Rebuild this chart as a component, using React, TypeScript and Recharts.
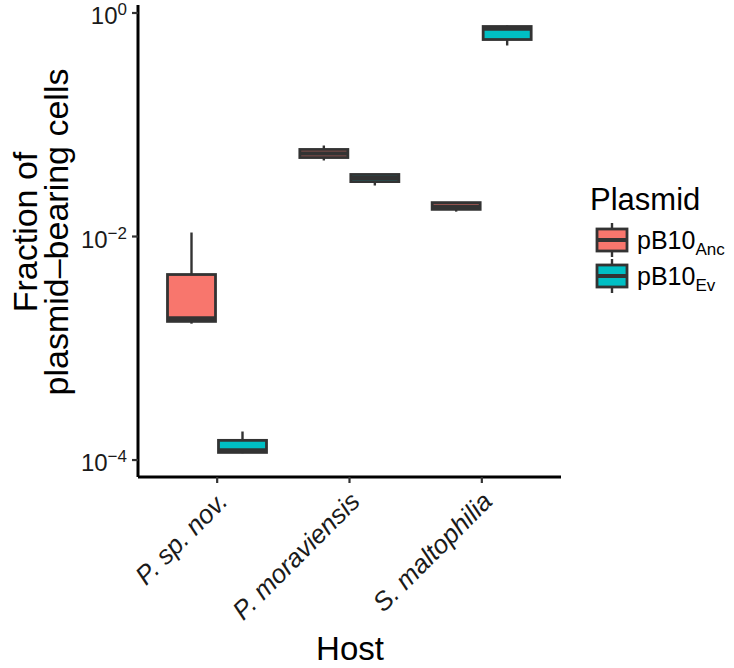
import React from "react";
import { ComposedChart, Bar, XAxis, YAxis, Legend } from "recharts";

const hosts = ["P. sp. nov.", "P. moraviensis", "S. maltophilia"];

// five-number summaries
const ancMin = [0.00166, 0.0479, 0.0167];
const ancQ1 = [0.00174, 0.0509, 0.0175];
const ancMed = [0.00185, 0.0553, 0.0185];
const ancQ3 = [0.00457, 0.0601, 0.0201];
const ancMax = [0.01086, 0.0652, 0.0202];

const evMin = [0.000115, 0.0286, 0.512];
const evQ1 = [0.000117, 0.031, 0.579];
const evMed = [0.000122, 0.0333, 0.726];
const evQ3 = [0.00015, 0.0359, 0.757];
const evMax = [0.00018, 0.036, 0.773];

const yTicks = [1e-4, 1e-2, 1];

const colors = { Anc: "#F8766D", Ev: "#00BFC4" };
const FONT = "'Liberation Sans', Arial, Helvetica, sans-serif";

const data = hosts.map((host, i) => ({
    host,
    anc: [ancMin[i], ancMax[i]],
    ev: [evMin[i], evMax[i]],
    ancStats: { min: ancMin[i], q1: ancQ1[i], med: ancMed[i], q3: ancQ3[i], max: ancMax[i] },
    evStats: { min: evMin[i], q1: evQ1[i], med: evMed[i], q3: evQ3[i], max: evMax[i] },
}));

// the bar spans whisker min..max; the rest is placed on the same log scale
function BoxShape(props: any) {
    const { x, y, width, height, payload, statKey, fill } = props;
    const s = payload[statKey];
    const top = Math.min(y, y + height);
    const bottom = Math.max(y, y + height);
    const hi = Math.log10(s.max);
    const lo = Math.log10(s.min);
    const py = (v: number) => top + ((bottom - top) * (hi - Math.log10(v))) / (hi - lo);
    const cx = x + width / 2;
    return (
        <g>
            <line x1={cx} x2={cx} y1={py(s.max)} y2={py(s.q3)} stroke="#333333" strokeWidth={2.4} />
            <line x1={cx} x2={cx} y1={py(s.q1)} y2={py(s.min)} stroke="#333333" strokeWidth={2.4} />
            <rect
                x={x + 1.5}
                y={py(s.q3)}
                width={width - 3}
                height={Math.max(0.5, py(s.q1) - py(s.q3))}
                fill={fill}
                stroke="#333333"
                strokeWidth={2.8}
            />
            <line x1={x + 1.5} x2={x + width - 1.5} y1={py(s.med)} y2={py(s.med)} stroke="#333333" strokeWidth={4.5} />
        </g>
    );
}

function YTick(props: any) {
    const { x, y, payload } = props;
    const exp = Math.round(Math.log10(payload.value));
    const sup = exp < 0 ? `\u2212${-exp}` : `${exp}`;
    return (
        <text x={x - 3} y={y + 11} textAnchor="end" fill="#1a1a1a" fontFamily={FONT} fontSize={24}>
            <tspan>10</tspan>
            <tspan dy={-9} fontSize={17}>
                {sup}
            </tspan>
        </text>
    );
}

function XTick(props: any) {
    const { x, y, payload } = props;
    const ax = x + 12;
    const ay = y + 18;
    return (
        <text
            x={ax}
            y={ay}
            transform={`rotate(-45, ${ax}, ${ay})`}
            textAnchor="end"
            fill="#1a1a1a"
            fontFamily={FONT}
            fontStyle="italic"
            fontSize={26}
        >
            {payload.value}
        </text>
    );
}

function PlasmidLegend(props: any) {
    const { payload } = props;
    return (
        <svg width={154} height={140} style={{ overflow: "visible" }}>
            <text x={10} y={40} fontFamily={FONT} fontSize={31} fill="#000">
                Plasmid
            </text>
            {(payload || []).map((entry: any, i: number) => {
                const cy = 70 + i * 36;
                return (
                    <g key={entry.value}>
                        <line x1={32} x2={32} y1={cy - 17} y2={cy + 17} stroke="#333333" strokeWidth={2.4} />
                        <rect x={17} y={cy - 11} width={30} height={22} fill={entry.color} stroke="#333333" strokeWidth={2.8} />
                        <line x1={17} x2={47} y1={cy} y2={cy} stroke="#333333" strokeWidth={4} />
                        <text x={57} y={cy + 9} fontFamily={FONT} fontSize={25} fill="#000">
                            pB10
                            <tspan dy={6} fontSize={17}>
                                {entry.value}
                            </tspan>
                        </text>
                    </g>
                );
            })}
        </svg>
    );
}

export default function App() {
    return (
        <div style={{ position: "absolute", left: 0, top: 0, width: 734, height: 668, background: "#fff" }}>
            <ComposedChart
                width={734}
                height={668}
                data={data}
                barGap={0}
                margin={{ top: 5, right: 173, bottom: 0, left: 0 }}
            >
                <XAxis
                    dataKey="host"
                    type="category"
                    height={191}
                    interval={0}
                    padding={{ left: 13, right: 13 }}
                    axisLine={{ stroke: "#000", strokeWidth: 3 }}
                    tickLine={{ stroke: "#333333", strokeWidth: 2.2 }}
                    tickSize={6}
                    tick={<XTick />}
                    label={{
                        content: () => (
                            <text x={350} y={660} textAnchor="middle" fontFamily={FONT} fontSize={33} fill="#000">
                                Host
                            </text>
                        ),
                    }}
                />
                <YAxis
                    type="number"
                    scale="log"
                    domain={[7.05e-5, 1.179]}
                    allowDataOverflow
                    ticks={yTicks}
                    interval={0}
                    width={138}
                    axisLine={{ stroke: "#000", strokeWidth: 3 }}
                    tickLine={{ stroke: "#333333", strokeWidth: 2.2 }}
                    tickSize={6}
                    tick={<YTick />}
                    label={{
                        content: () => (
                            <text transform="rotate(-90)" textAnchor="middle" fontFamily={FONT} fontSize={34} fill="#000">
                                <tspan x={-232} y={37}>
                                    Fraction of
                                </tspan>
                                <tspan x={-232} y={68}>
                                    plasmid–bearing cells
                                </tspan>
                            </text>
                        ),
                    }}
                />
                <Legend
                    layout="horizontal"
                    align="center"
                    verticalAlign="middle"
                    content={<PlasmidLegend />}
                    wrapperStyle={{ left: 580, top: 170, width: 154, height: 140 }}
                />
                <Bar
                    dataKey="anc"
                    name="Anc"
                    fill={colors.Anc}
                    barSize={51}
                    isAnimationActive={false}
                    shape={(p: any) => <BoxShape {...p} statKey="ancStats" fill={colors.Anc} />}
                />
                <Bar
                    dataKey="ev"
                    name="Ev"
                    fill={colors.Ev}
                    barSize={51}
                    isAnimationActive={false}
                    shape={(p: any) => <BoxShape {...p} statKey="evStats" fill={colors.Ev} />}
                />
            </ComposedChart>
        </div>
    );
}
